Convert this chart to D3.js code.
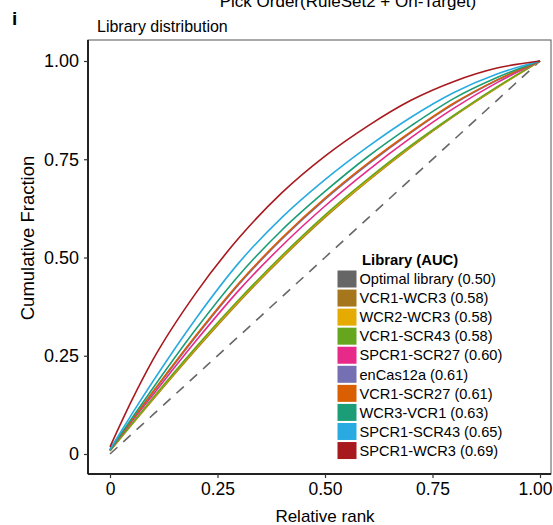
<!DOCTYPE html>
<html>
<head>
<meta charset="utf-8">
<script src="https://cdn.jsdelivr.net/npm/d3@7"></script>
<style>
  html, body { margin: 0; padding: 0; background: #fff; }
  svg { display: block; font-family: "Liberation Sans", Arial, Helvetica, sans-serif; }
</style>
</head>
<body>
<svg id="chart" width="553" height="525"></svg>
<script>
// relative rank sample points
const ranks = [0, 0.05, 0.1, 0.2, 0.3, 0.4, 0.5, 0.6, 0.7, 0.8, 0.9, 1];

// library names, AUC and colours (legend order = draw order)
const libraries = ["Optimal library", "VCR1-WCR3", "WCR2-WCR3", "VCR1-SCR43", "SPCR1-SCR27",
  "enCas12a", "VCR1-SCR27", "WCR3-VCR1", "SPCR1-SCR43", "SPCR1-WCR3"];
const aucs = ["0.50", "0.58", "0.58", "0.58", "0.60", "0.61", "0.61", "0.63", "0.65", "0.69"];
const colors = ["#666666", "#a6761d", "#e6ab02", "#66a61e", "#e7298a",
  "#7570b3", "#d95f02", "#1b9e77", "#29abe2", "#a8191e"];

// cumulative fraction
const optimal    = [0, 0.05, 0.1, 0.2, 0.3, 0.4, 0.5, 0.6, 0.7, 0.8, 0.9, 1];
const vcr1Wcr3   = [0.008, 0.074, 0.139, 0.266, 0.387, 0.499, 0.602, 0.695, 0.781, 0.860, 0.932, 1];
const wcr2Wcr3   = [0.008, 0.075, 0.141, 0.269, 0.390, 0.502, 0.605, 0.697, 0.783, 0.861, 0.933, 1];
const vcr1Scr43  = [0.008, 0.076, 0.143, 0.272, 0.393, 0.505, 0.608, 0.700, 0.785, 0.862, 0.934, 1];
const spcr1Scr27 = [0.010, 0.082, 0.151, 0.288, 0.417, 0.530, 0.631, 0.722, 0.805, 0.880, 0.945, 1];
const enCas12a   = [0.010, 0.085, 0.157, 0.299, 0.432, 0.547, 0.648, 0.737, 0.818, 0.891, 0.951, 1];
const vcr1Scr27  = [0.010, 0.086, 0.159, 0.302, 0.435, 0.550, 0.651, 0.740, 0.820, 0.893, 0.952, 1];
const wcr3Vcr1   = [0.010, 0.090, 0.168, 0.318, 0.455, 0.570, 0.668, 0.757, 0.835, 0.905, 0.958, 1];
const spcr1Scr43 = [0.012, 0.100, 0.185, 0.345, 0.487, 0.602, 0.698, 0.782, 0.857, 0.920, 0.967, 1];
const spcr1Wcr3  = [0.018, 0.135, 0.240, 0.410, 0.550, 0.665, 0.758, 0.835, 0.900, 0.948, 0.982, 1];

const seriesValues = [optimal, vcr1Wcr3, wcr2Wcr3, vcr1Scr43, spcr1Scr27,
  enCas12a, vcr1Scr27, wcr3Vcr1, spcr1Scr43, spcr1Wcr3];

const xTicks = [0, 0.25, 0.5, 0.75, 1];
const xTickLabels = ["0", "0.25", "0.50", "0.75", "1.00"];
const yTicks = [0, 0.25, 0.5, 0.75, 1];
const yTickLabels = ["0", "0.25", "0.50", "0.75", "1.00"];

const svg = d3.select("#chart");
const panel = { left: 88, top: 40, right: 551, bottom: 474 };

const x = d3.scaleLinear().domain([0, 1]).range([110, 540]);
const y = d3.scaleLinear().domain([0, 1]).range([454, 61]);

// titles
svg.append("text").attr("x", 348).attr("y", 7).attr("text-anchor", "middle")
  .attr("font-size", 17).attr("fill", "#000").text("Pick Order(RuleSet2 + On-Target)");
svg.append("text").attr("x", 12).attr("y", 25).attr("font-size", 19)
  .attr("font-weight", "bold").text("i");
svg.append("text").attr("x", 97).attr("y", 32).attr("font-size", 16).text("Library distribution");

// panel
svg.append("rect")
  .attr("x", panel.left).attr("y", panel.top)
  .attr("width", panel.right - panel.left).attr("height", panel.bottom - panel.top)
  .attr("fill", "#fff").attr("stroke", "#555").attr("stroke-width", 1);

const line = d3.line()
  .x((d, i) => x(ranks[i]))
  .y(d => y(d))
  .curve(d3.curveMonotoneX);

const gLines = svg.append("g");
seriesValues.forEach((vals, k) => {
  gLines.append("path")
    .attr("d", line(vals))
    .attr("fill", "none")
    .attr("stroke", colors[k])
    .attr("stroke-width", 1.6)
    .attr("stroke-dasharray", k === 0 ? "10,8" : null);
});

// axis lines
svg.append("line").attr("x1", panel.left).attr("x2", panel.left)
  .attr("y1", panel.top).attr("y2", panel.bottom).attr("stroke", "#222").attr("stroke-width", 2);
svg.append("line").attr("x1", panel.left).attr("x2", panel.right)
  .attr("y1", panel.bottom).attr("y2", panel.bottom).attr("stroke", "#222").attr("stroke-width", 2);

// y axis
const yAxis = d3.axisLeft(y).tickValues(yTicks).tickSize(4).tickPadding(5)
  .tickFormat((d, i) => yTickLabels[i]);
const gy = svg.append("g").attr("transform", `translate(${panel.left},0)`).call(yAxis);
gy.select(".domain").remove();
gy.selectAll(".tick line").attr("stroke", "#333").attr("stroke-width", 1.2);
gy.selectAll(".tick text").attr("font-size", 18).attr("fill", "#000")
  .attr("font-family", "Liberation Sans, Arial, sans-serif");

// x axis
const xAxis = d3.axisBottom(x).tickValues(xTicks).tickSize(4).tickPadding(5)
  .tickFormat((d, i) => xTickLabels[i]);
const gx = svg.append("g").attr("transform", `translate(0,${panel.bottom})`).call(xAxis);
gx.select(".domain").remove();
gx.selectAll(".tick line").attr("stroke", "#333").attr("stroke-width", 1.2);
gx.selectAll(".tick text").attr("font-size", 17.5).attr("fill", "#000")
  .attr("font-family", "Liberation Sans, Arial, sans-serif");
// keep the last label inside the window
gx.selectAll(".tick text").filter((d) => d === 1)
  .attr("text-anchor", "end").attr("x", 552 - x(1));

// axis titles
svg.append("text").attr("x", 325).attr("y", 522).attr("text-anchor", "middle")
  .attr("font-size", 17).text("Relative rank");
svg.append("text").attr("transform", "translate(34,238) rotate(-90)")
  .attr("text-anchor", "middle").attr("font-size", 18.5).text("Cumulative Fraction");

// legend
const lg = svg.append("g");
lg.append("rect").attr("x", 334).attr("y", 249).attr("width", 176).attr("height", 213)
  .attr("fill", "#fff");
lg.append("text").attr("x", 362).attr("y", 265).attr("font-size", 14.8)
  .attr("font-weight", "bold").text("Library (AUC)");
libraries.forEach((name, k) => {
  const cy = 279 + k * 19.06;
  lg.append("rect").attr("x", 337.5).attr("y", cy - 8.5).attr("width", 19).attr("height", 17)
    .attr("fill", colors[k]);
  lg.append("text").attr("x", 359.5).attr("y", cy + 5.2).attr("font-size", 14.6)
    .text(`${name} (${aucs[k]})`);
});
</script>
</body>
</html>
